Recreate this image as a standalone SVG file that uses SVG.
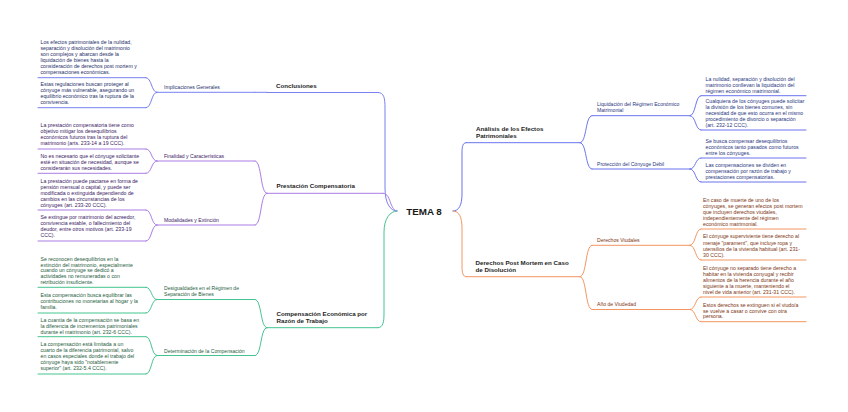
<svg xmlns="http://www.w3.org/2000/svg" width="848" height="412" viewBox="0 0 848 412">
<style>
text{font-family:"Liberation Sans",Arial,sans-serif;}
.b{font-size:5.2px;}
.s{font-size:5.1px;}
.m{font-size:6.2px;font-weight:bold;fill:#1e1e1e;}
.c{font-size:9.8px;font-weight:bold;fill:#1a1a1a;}
.ln{fill:none;stroke-width:1;stroke-linecap:round;}
.nv{stroke:#7880f2}.nvt{fill:#27306b}
.bl{stroke:#6a74ee}.blt{fill:#2a3680}
.pu{stroke:#a97de4}.put{fill:#3b2166}
.gr{stroke:#44c48f}.grt{fill:#1f5e40}
.or{stroke:#f39662}.ort{fill:#7e3512}
</style>
<rect width="848" height="412" fill="#ffffff"/>

<g id="connectors" class="ln">
  <!-- center to main topics -->
  <path class="nv" d="M378,92.5 C384,92.5 385,98 385,108 V188 C385,203 390,211 397,211"/>
  <path class="pu" d="M383,193.3 C388,193.3 389,199 391,204 C393,209 395,211 397,211"/>
  <path class="gr" d="M378,327.7 C383,327.7 384,322 384,314 V232 C384,219 390,211 397,211"/>
  <path class="bl" d="M466,142.7 C463,142.7 462,146 462,153 V194 C462,205 459,211 453,211"/>
  <path class="or" d="M466,276.7 C463,276.7 462,273 462,266 V228 C462,217 459,211 453,211"/>
  <!-- main to subtopics left -->
  <path class="nv" d="M255,92.3 H267"/>
  <path class="pu" d="M255,161 C262,161 260,193.3 267,193.3"/>
  <path class="pu" d="M255,225 C262,225 260,193.3 267,193.3"/>
  <path class="gr" d="M255,299.5 C262,299.5 260,327.7 267,327.7"/>
  <path class="gr" d="M255,355.5 C262,355.5 260,327.7 267,327.7"/>
  <!-- subtopics to blocks left -->
  <path class="nv" d="M146,77.7 C152,77.7 151,92.3 157,92.3"/>
  <path class="nv" d="M146,107.7 C152,107.7 151,92.3 157,92.3"/>
  <path class="pu" d="M146,149 C152,149 151,161 157,161"/>
  <path class="pu" d="M146,173.3 C152,173.3 151,161 157,161"/>
  <path class="pu" d="M146,210 C152,210 151,225 157,225"/>
  <path class="pu" d="M146,241 C152,241 151,225 157,225"/>
  <path class="gr" d="M146,287.3 C152,287.3 151,299.5 157,299.5"/>
  <path class="gr" d="M146,313 C152,313 151,299.5 157,299.5"/>
  <path class="gr" d="M146,336.7 C152,336.7 151,355.5 157,355.5"/>
  <path class="gr" d="M146,374 C152,374 151,355.5 157,355.5"/>
  <!-- main to subtopics right -->
  <path class="bl" d="M580,142.7 C587,142.7 585,115.7 592,115.7"/>
  <path class="bl" d="M580,142.7 C587,142.7 585,169 592,169"/>
  <path class="or" d="M580,276.7 C587,276.7 585,245.3 592,245.3"/>
  <path class="or" d="M580,276.7 C587,276.7 585,309.5 592,309.5"/>
  <!-- subtopics to blocks right -->
  <path class="bl" d="M690,115.7 C696,115.7 695,95.7 701,95.7"/>
  <path class="bl" d="M690,115.7 C696,115.7 695,130 701,130"/>
  <path class="bl" d="M690,169 C696,169 695,158 701,158"/>
  <path class="bl" d="M690,169 C696,169 695,182 701,182"/>
  <path class="or" d="M690,245.3 C696,245.3 695,229 701,229"/>
  <path class="or" d="M690,245.3 C696,245.3 695,260 701,260"/>
  <path class="or" d="M690,309.5 C696,309.5 695,297 701,297"/>
  <path class="or" d="M690,309.5 C696,309.5 695,321.7 701,321.7"/>
</g>

<g id="center">
  <text class="c" x="424" y="214.5" text-anchor="middle">TEMA 8</text>
</g>

<!-- Conclusiones -->
<g id="conclusiones">
  <path class="ln nv" d="M267,92.5 H378"/>
  <text class="m" x="276" y="88">Conclusiones</text>
</g>
<g id="implicaciones">
  <path class="ln nv" d="M157,92.3 H255"/>
  <text class="s nvt" x="164" y="89">Implicaciones Generales</text>
</g>
<g id="c1">
  <path class="ln nv" d="M38,77.7 H146"/>
  <text class="b nvt" x="40.5"><tspan x="40.5" y="43.5">Los efectos patrimoniales de la nulidad,</tspan><tspan x="40.5" y="49.5">separación y disolución del matrimonio</tspan><tspan x="40.5" y="55.5">son complejos y abarcan desde la</tspan><tspan x="40.5" y="61.5">liquidación de bienes hasta la</tspan><tspan x="40.5" y="67.5">consideración de derechos post mortem y</tspan><tspan x="40.5" y="73.5">compensaciones económicas.</tspan></text>
</g>
<g id="c2">
  <path class="ln nv" d="M38,107.7 H146"/>
  <text class="b nvt"><tspan x="40.5" y="86">Estas regulaciones buscan proteger al</tspan><tspan x="40.5" y="92">cónyuge más vulnerable, asegurando un</tspan><tspan x="40.5" y="98">equilibrio económico tras la ruptura de la</tspan><tspan x="40.5" y="104">convivencia.</tspan></text>
</g>

<!-- Prestación -->
<g id="prestacion">
  <path class="ln pu" d="M267,193.3 H383"/>
  <text class="m" x="276.5" y="188">Prestación Compensatoria</text>
</g>
<g id="finalidad">
  <path class="ln pu" d="M157,161 H255"/>
  <text class="s put" x="164" y="158">Finalidad y Características</text>
</g>
<g id="p1">
  <path class="ln pu" d="M38,149 H146"/>
  <text class="b put"><tspan x="40.5" y="126.8">La prestación compensatoria tiene como</tspan><tspan x="40.5" y="132.8">objetivo mitigar los desequilibrios</tspan><tspan x="40.5" y="138.8">económicos futuros tras la ruptura del</tspan><tspan x="40.5" y="144.8">matrimonio (arts. 233-14 a 19 CCC).</tspan></text>
</g>
<g id="p2">
  <path class="ln pu" d="M38,173.3 H146"/>
  <text class="b put"><tspan x="40.5" y="158.3">No es necesario que el cónyuge solicitante</tspan><tspan x="40.5" y="164.3">esté en situación de necesidad, aunque se</tspan><tspan x="40.5" y="170.3">considerarán sus necesidades.</tspan></text>
</g>
<g id="modalidades">
  <path class="ln pu" d="M157,225 H255"/>
  <text class="s put" x="164" y="222.4">Modalidades y Extinción</text>
</g>
<g id="p3">
  <path class="ln pu" d="M38,210 H146"/>
  <text class="b put"><tspan x="40.5" y="182.7">La prestación puede pactarse en forma de</tspan><tspan x="40.5" y="188.7">pensión mensual o capital, y puede ser</tspan><tspan x="40.5" y="194.7">modificada o extinguida dependiendo de</tspan><tspan x="40.5" y="200.7">cambios en las circunstancias de los</tspan><tspan x="40.5" y="206.7">cónyuges (art. 233-20 CCC).</tspan></text>
</g>
<g id="p4">
  <path class="ln pu" d="M38,241 H146"/>
  <text class="b put"><tspan x="40.5" y="219.4">Se extingue por matrimonio del acreedor,</tspan><tspan x="40.5" y="225.4">convivencia estable, o fallecimiento del</tspan><tspan x="40.5" y="231.4">deudor, entre otros motivos (art. 233-19</tspan><tspan x="40.5" y="237.4">CCC).</tspan></text>
</g>

<!-- Compensación -->
<g id="compensacion">
  <path class="ln gr" d="M267,327.7 H378"/>
  <text class="m"><tspan x="276.5" y="315.6">Compensación Económica por</tspan><tspan x="276.5" y="323">Razón de Trabajo</tspan></text>
</g>
<g id="desigualdades">
  <path class="ln gr" d="M157,299.5 H255"/>
  <text class="s grt"><tspan x="164" y="290.4">Desigualdades en el Régimen de</tspan><tspan x="164" y="296">Separación de Bienes</tspan></text>
</g>
<g id="g1">
  <path class="ln gr" d="M38,287.3 H146"/>
  <text class="b grt"><tspan x="40.5" y="260.7">Se reconocen desequilibrios en la</tspan><tspan x="40.5" y="266.5">extinción del matrimonio, especialmente</tspan><tspan x="40.5" y="272.4">cuando un cónyuge se dedicó a</tspan><tspan x="40.5" y="278.2">actividades no remuneradas o con</tspan><tspan x="40.5" y="284">retribución insuficiente.</tspan></text>
</g>
<g id="g2">
  <path class="ln gr" d="M38,313 H146"/>
  <text class="b grt"><tspan x="40.5" y="297.4">Esta compensación busca equilibrar las</tspan><tspan x="40.5" y="303.3">contribuciones no monetarias al hogar y la</tspan><tspan x="40.5" y="309">familia.</tspan></text>
</g>
<g id="determinacion">
  <path class="ln gr" d="M157,355.5 H255"/>
  <text class="s grt" x="164" y="352.7">Determinación de la Compensación</text>
</g>
<g id="g3">
  <path class="ln gr" d="M38,336.7 H146"/>
  <text class="b grt"><tspan x="40.5" y="321.7">La cuantía de la compensación se basa en</tspan><tspan x="40.5" y="327.7">la diferencia de incrementos patrimoniales</tspan><tspan x="40.5" y="333.7">durante el matrimonio (art. 232-6 CCC).</tspan></text>
</g>
<g id="g4">
  <path class="ln gr" d="M38,374 H146"/>
  <text class="b grt"><tspan x="40.5" y="346.4">La compensación está limitada a un</tspan><tspan x="40.5" y="352.4">cuarto de la diferencia patrimonial, salvo</tspan><tspan x="40.5" y="358.4">en casos especiales donde el trabajo del</tspan><tspan x="40.5" y="364.4">cónyuge haya sido "notablemente</tspan><tspan x="40.5" y="370.4">superior" (art. 232-5.4 CCC).</tspan></text>
</g>

<!-- Análisis -->
<g id="analisis">
  <path class="ln bl" d="M466,142.7 H580"/>
  <text class="m"><tspan x="476" y="130.6">Análisis de los Efectos</tspan><tspan x="476" y="138">Patrimoniales</tspan></text>
</g>
<g id="liquidacion">
  <path class="ln bl" d="M592,115.7 H690"/>
  <text class="s blt"><tspan x="597" y="106">Liquidación del Régimen Económico</tspan><tspan x="597" y="112.4">Matrimonial</tspan></text>
</g>
<g id="a1">
  <path class="ln bl" d="M701,95.7 H806"/>
  <text class="b blt"><tspan x="705.5" y="81.4">La nulidad, separación y disolución del</tspan><tspan x="705.5" y="87.2">matrimonio conllevan la liquidación del</tspan><tspan x="705.5" y="93">régimen económico matrimonial.</tspan></text>
</g>
<g id="a2">
  <path class="ln bl" d="M701,130 H806"/>
  <text class="b blt"><tspan x="705.5" y="102.6">Cualquiera de los cónyuges puede solicitar</tspan><tspan x="705.5" y="108.6">la división de los bienes comunes, sin</tspan><tspan x="705.5" y="114.6">necesidad de que esto ocurra en el mismo</tspan><tspan x="705.5" y="120.6">procedimiento de divorcio o separación</tspan><tspan x="705.5" y="126.6">(art. 232-12 CCC).</tspan></text>
</g>
<g id="proteccion">
  <path class="ln bl" d="M592,169 H690"/>
  <text class="s blt" x="597" y="166">Protección del Cónyuge Débil</text>
</g>
<g id="a3">
  <path class="ln bl" d="M701,158 H806"/>
  <text class="b blt"><tspan x="705.5" y="142.7">Se busca compensar desequilibrios</tspan><tspan x="705.5" y="148.7">económicos tanto pasados como futuros</tspan><tspan x="705.5" y="154.7">entre los cónyuges.</tspan></text>
</g>
<g id="a4">
  <path class="ln bl" d="M701,182 H806"/>
  <text class="b blt"><tspan x="705.5" y="166.7">Las compensaciones se dividen en</tspan><tspan x="705.5" y="172.7">compensación por razón de trabajo y</tspan><tspan x="705.5" y="178.7">prestaciones compensatorias.</tspan></text>
</g>

<!-- Derechos Post Mortem -->
<g id="postmortem">
  <path class="ln or" d="M466,276.7 H580"/>
  <text class="m"><tspan x="475.5" y="265">Derechos Post Mortem en Caso</tspan><tspan x="475.5" y="272.3">de Disolución</tspan></text>
</g>
<g id="viudales">
  <path class="ln or" d="M592,245.3 H690"/>
  <text class="s ort" x="597" y="242.4">Derechos Viudales</text>
</g>
<g id="d1">
  <path class="ln or" d="M701,229 H806"/>
  <text class="b ort"><tspan x="703" y="202">En caso de muerte de uno de los</tspan><tspan x="703" y="208">cónyuges, se generan efectos post mortem</tspan><tspan x="703" y="214">que incluyen derechos viudales,</tspan><tspan x="703" y="220">independientemente del régimen</tspan><tspan x="703" y="226">económico matrimonial.</tspan></text>
</g>
<g id="d2">
  <path class="ln or" d="M701,260 H806"/>
  <text class="b ort"><tspan x="703" y="238.4">El cónyuge superviviente tiene derecho al</tspan><tspan x="703" y="244.5">menaje "parament", que incluye ropa y</tspan><tspan x="703" y="250.7">utensilios de la vivienda habitual (art. 231-</tspan><tspan x="703" y="256.9">30 CCC).</tspan></text>
</g>
<g id="viudedad">
  <path class="ln or" d="M592,309.5 H690"/>
  <text class="s ort" x="597" y="306">Año de Viudedad</text>
</g>
<g id="d3">
  <path class="ln or" d="M701,297 H806"/>
  <text class="b ort"><tspan x="703" y="269.7">El cónyuge no separado tiene derecho a</tspan><tspan x="703" y="275.7">habitar en la vivienda conyugal y recibir</tspan><tspan x="703" y="281.7">alimentos de la herencia durante el año</tspan><tspan x="703" y="287.7">siguiente a la muerte, manteniendo el</tspan><tspan x="703" y="293.7">nivel de vida anterior (art. 231-31 CCC).</tspan></text>
</g>
<g id="d4">
  <path class="ln or" d="M701,321.7 H806"/>
  <text class="b ort"><tspan x="703" y="306.7">Estos derechos se extinguen si el viudo/a</tspan><tspan x="703" y="312.5">se vuelve a casar o convive con otra</tspan><tspan x="703" y="318.3">persona.</tspan></text>
</g>
</svg>
